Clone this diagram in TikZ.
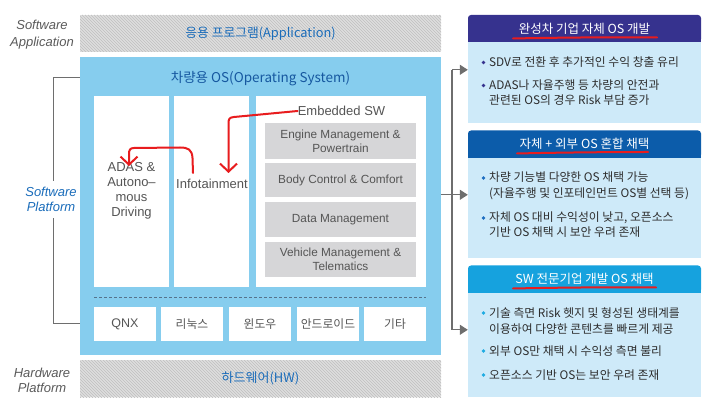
\documentclass[tikz,border=0pt]{standalone}
\usepackage{fontspec}
\setmainfont{Liberation Sans}
\newfontfamily\kr{Noto Sans CJK KR}
\usetikzlibrary{arrows.meta,calc}

\definecolor{osblue}{RGB}{134,205,238}
\definecolor{hatchbg}{RGB}{226,226,226}
\definecolor{hatchfg}{RGB}{196,196,196}
\definecolor{titleblue}{RGB}{26,108,186}
\definecolor{osttl}{RGB}{22,88,160}
\definecolor{gboxc}{RGB}{214,214,216}
\definecolor{gtxt}{RGB}{85,85,85}
\definecolor{lblgray}{RGB}{90,90,90}
\definecolor{pbodyc}{RGB}{206,234,249}
\definecolor{hdrA}{RGB}{54,50,142}
\definecolor{hdrB}{RGB}{12,92,170}
\definecolor{hdrC}{RGB}{22,162,222}
\definecolor{bulA}{RGB}{54,50,142}
\definecolor{bulB}{RGB}{30,110,192}
\definecolor{bulC}{RGB}{30,172,226}
\definecolor{ptxt}{RGB}{45,45,45}
\definecolor{redpen}{RGB}{232,28,30}
\definecolor{conngray}{RGB}{110,110,110}
\definecolor{dashc}{RGB}{85,115,140}

\begin{document}
\begin{tikzpicture}[x=1pt,y=-1pt,
  hatchln/.style={draw=hatchfg, line width=0.9pt},
  band/.style={fill=hatchbg, inner sep=0, minimum width=361pt, minimum height=37pt,
    font=\kr\fontsize{12.8}{15}\selectfont, text=titleblue,
    path picture={\foreach \k in {-40,-37,...,364}{\draw[hatchln] ($(path picture bounding box.north west)+(\k,0)$) -- ++(40,40);}}},
  colbox/.style={fill=white, inner sep=0, minimum height=191pt},
  coltxt/.style={font=\fontsize{13}{15}\selectfont, text=gtxt, inner sep=0, align=center},
  gbox/.style={fill=gboxc, inner sep=0, minimum width=151pt, align=center,
    font=\fontsize{11.8}{14}\selectfont, text=gtxt},
  ositem/.style={fill=white, inner sep=0, minimum width=62pt, minimum height=34pt,
    font=\kr\fontsize{11.8}{14}\selectfont, text=gtxt},
  sidelbl/.style={font=\itshape\fontsize{13}{16}\selectfont, align=center, inner sep=0},
  pbody/.style={fill=pbodyc, inner sep=0, minimum width=233pt},
  hdr/.style={rounded corners=3pt, inner sep=0, minimum width=233pt, minimum height=27pt,
    font=\kr\fontsize{12.5}{14}\selectfont, text=white},
  ptext/.style={font=\kr\fontsize{11.8}{15}\selectfont, text=ptxt, inner sep=0, anchor=base west},
  pen/.style={draw=redpen, line width=2pt, line cap=round, line join=round},
  penarrow/.style={pen, -{Straight Barb[length=8pt,width=17pt]}},
  conn/.style={draw=conngray, line width=1.3pt},
  connarrow/.style={conn, -{Triangle[length=8pt,width=10pt]}},
  bracket/.style={draw=conngray, line width=1pt},
]
\useasboundingbox (0,0) rectangle (712,403);

% ---------- layer bands ----------
\node[band] (app) at (260.5,33.5) {응용 프로그램(Application)};
\node[fill=osblue, inner sep=0, minimum width=361pt, minimum height=298pt] (os) at (260.5,206) {};
\node[band, font=\kr\fontsize{13}{15}\selectfont] (hw) at (260.5,378.5) {하드웨어(HW)};

\node[font=\kr\fontsize{13.5}{16}\selectfont, text=osttl, inner sep=0] (osttl) at (260.5,79) {차량용 OS(Operating System)};

% ---------- application columns ----------
\node[colbox, minimum width=75pt] (c1) at (131.5,191.5) {};
\node[colbox, minimum width=75pt] (c2) at (211.5,191.5) {};
\node[colbox, minimum width=170pt] (c3) at (341,191.5) {};

\node[coltxt] (adas) at (131.5,191) {ADAS \&\\Autono–\\mous\\Driving};
\node[coltxt] (info) at (212,184) {Infotainment};
\node[coltxt] (esw) at (341.5,111) {Embedded SW};

\node[gbox, minimum height=36pt] (g1) at (340.5,141) {Engine Management \&\\Powertrain};
\node[gbox, minimum height=34pt] (g2) at (340.5,180) {Body Control \& Comfort};
\node[gbox, minimum height=35pt] (g3) at (340.5,219.5) {Data Management};
\node[gbox, minimum height=35pt] (g4) at (340.5,259.5) {Vehicle Management \&\\Telematics};

% ---------- separator and OS kernels ----------
\draw[draw=dashc, line width=0.8pt, dash pattern=on 3pt off 2pt] (94,297) -- (426,297);

\node[ositem, font=\fontsize{12.5}{14}\selectfont] (qnx) at (125,324) {QNX};
\node[ositem] (linux) at (192,324) {리눅스};
\node[ositem] (win) at (260,324) {윈도우};
\node[ositem] (andr) at (328,324) {안드로이드};
\node[ositem] (etc) at (395,324) {기타};

% ---------- side labels ----------
\node[sidelbl, text=lblgray, font=\itshape\fontsize{13}{17}\selectfont] (swapp) at (42,34.5) {Software\\Application};
\node[sidelbl, text=titleblue, font=\itshape\fontsize{13}{15.5}\selectfont, inner ysep=6pt] (swplat) at (51,199.5) {Software\\Platform};
\node[sidelbl, text=lblgray, font=\itshape\fontsize{13}{15}\selectfont] (hwplat) at (42,380.5) {Hardware\\Platform};

\coordinate (brk) at (53,0);
\draw[bracket] ($(os.north west)+(0,21)$) -| (brk |- swplat.north);
\draw[bracket] (brk |- swplat.south) |- ($(os.south west)+(0,-32)$);

% ---------- red annotations ----------
\draw[penarrow] (esw.west) -- (234,117) .. controls (229,117.5) and (228.5,119) .. (228.5,124) -- (228.5,173);
\draw[penarrow] (193,173) -- (192.5,158) .. controls (192,149.5) and (188,147.5) .. (180,147.5) -- (134,148) .. controls (130,148) and (129,150) .. (129,154) -- (129,166);

% ---------- strategy panels ----------
\node[pbody, minimum height=81pt] (p1) at (584.5,82.5) {};
\node[hdr, fill=hdrA] (h1) at (584.5,28.5) {완성차 기업 자체 OS 개발};
\fill[hdrA] (h1.south west) rectangle ($(h1.south east)+(0,-4)$);

\node[pbody, minimum height=101pt] (p2) at (584.5,207.5) {};
\node[hdr, fill=hdrB] (h2) at (584.5,144) {자체 + 외부 OS 혼합 채택};
\fill[hdrB] (h2.south west) rectangle ($(h2.south east)+(0,-4)$);

\node[pbody, minimum height=105pt] (p3) at (584.5,344.5) {};
\node[hdr, fill=hdrC] (h3) at (584.5,279) {SW 전문기업 개발 OS 채택};
\fill[hdrC] (h3.south west) rectangle ($(h3.south east)+(0,-4)$);

\draw[pen] (513,38.5) .. controls (560,37.5) and (620,37) .. (657,37.5);
\draw[pen] (517,153.5) .. controls (560,152.5) and (610,152) .. (648,152);
\draw[pen] (513,288.5) .. controls (560,287.5) and (620,287) .. (656,287.5);

% panel 1 items
\fill[bulA] (483.5,62.5) circle (1.8);
\node[ptext] (p1a) at (489,66.5) {SDV로 전환 후 추가적인 수익 창출 유리};
\fill[bulA] (483.5,85.5) circle (1.8);
\node[ptext] (p1b) at (489,89.5) {ADAS나 자율주행 등 차량의 안전과};
\node[ptext] (p1c) at (489,104.5) {관련된 OS의 경우 Risk 부담 증가};

% panel 2 items
\fill[bulB] (483.5,178) circle (1.8);
\node[ptext] (p2a) at (489,182) {차량 기능별 다양한 OS 채택 가능};
\node[ptext] (p2b) at (489,198) {(자율주행 및 인포테인먼트 OS별 선택 등)};
\fill[bulB] (483.5,218) circle (1.8);
\node[ptext] (p2c) at (489,222) {자체 OS 대비 수익성이 낮고, 오픈소스};
\node[ptext] (p2d) at (489,237) {기반 OS 채택 시 보안 우려 존재};

% panel 3 items
\fill[bulC] (483.5,313) circle (1.8);
\node[ptext] (p3a) at (489,317) {기술 측면 Risk 헷지 및 형성된 생태계를};
\node[ptext] (p3b) at (489,334) {이용하여 다양한 콘텐츠를 빠르게 제공};
\fill[bulC] (483.5,351) circle (1.8);
\node[ptext] (p3c) at (489,355) {외부 OS만 채택 시 수익성 측면 불리};
\fill[bulC] (483.5,375) circle (1.8);
\node[ptext] (p3d) at (489,379) {오픈소스 기반 OS는 보안 우려 존재};

% ---------- connectors to panels ----------
\coordinate (t1) at ($(p1.north west)+(0,28)$);
\coordinate (t2) at ($(p2.north west)+(0,38)$);
\coordinate (t3) at ($(p3.north west)+(0,38)$);
\coordinate (j) at (452,0);
\draw[conn] (j |- t1) -- (j |- t3);
\draw[connarrow] (j |- t1) -- (t1);
\draw[connarrow] (os.east |- t2) -- (t2);
\draw[connarrow] (j |- t3) -- (t3);
\end{tikzpicture}
\end{document}
